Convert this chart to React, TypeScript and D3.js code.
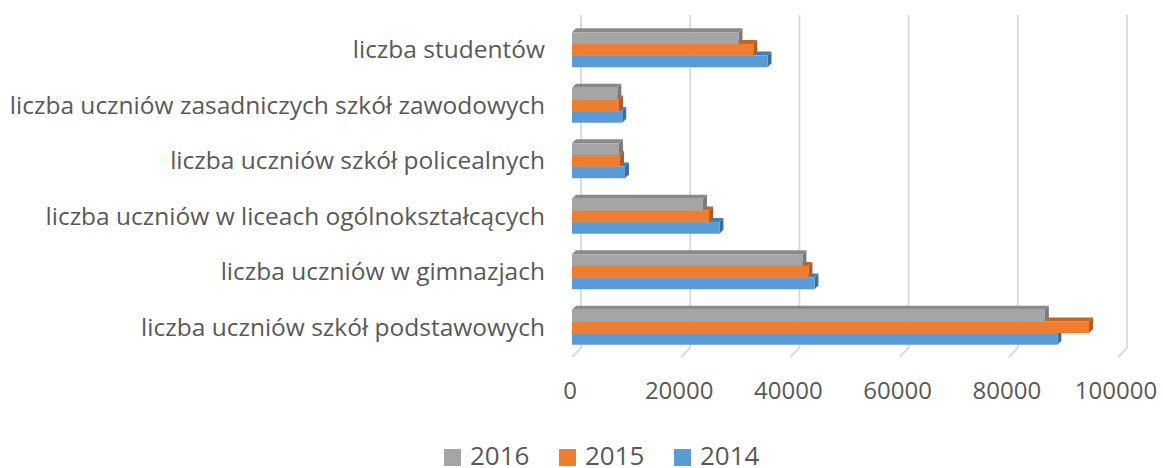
import React from 'react';
import * as d3 from 'd3';

// categories listed top to bottom, as in the picture
const categories = [
  'liczba studentów',
  'liczba uczniów zasadniczych szkół zawodowych',
  'liczba uczniów szkół policealnych',
  'liczba uczniów w liceach ogólnokształcących',
  'liczba uczniów w gimnazjach',
  'liczba uczniów szkół podstawowych',
];

const years = ['2016', '2015', '2014'];
const values2016 = [30500, 8300, 8600, 24000, 42200, 86600];
const values2015 = [33200, 8600, 8800, 25100, 43300, 94700];
const values2014 = [35800, 9200, 9700, 27000, 44400, 88900];
const xTicks = [0, 20000, 40000, 60000, 80000, 100000];

const colors: Record<string, { front: string; side: string; top: string }> = {
  '2016': { front: '#a5a5a5', side: '#7b7b7b', top: '#8a8a8a' },
  '2015': { front: '#ed7d31', side: '#b4591f', top: '#c76422' },
  '2014': { front: '#5b9bd5', side: '#3b6f9e', top: '#467fb3' },
};

const FONT = '"Open Sans", "DejaVu Sans", sans-serif';
const TEXT = '#595959';

export default function App() {
  const width = 1163;
  const height = 468;

  const series = [
    { key: '2016', values: values2016 },
    { key: '2015', values: values2015 },
    { key: '2014', values: values2014 },
  ];

  // front plane scales
  const x = d3.scaleLinear().domain([0, 100000]).range([572, 1118]);
  const y = d3
    .scaleBand<string>()
    .domain(categories)
    .range([22, 355])
    .paddingInner(0.37)
    .paddingOuter(0.185);
  const ySub = d3.scaleBand<string>().domain(years).range([0, y.bandwidth()]);

  // 3D offsets
  const floorDx = 9, floorDy = 9;
  const barD = 4;
  const backTop = 15, backBottom = 348;

  return (
    <div style={{ position: 'absolute', left: 0, top: 0 }}>
      <svg width={width} height={height} style={{ display: 'block', background: '#fff' }}>
        {/* gridlines on back wall + floor */}
        <g fill="none" stroke="#d9d9d9" strokeWidth={1.8}>
          {xTicks.map((t) => (
            <path
              key={t}
              d={`M${x(t) + floorDx},${backTop}L${x(t) + floorDx},${backBottom}L${x(t)},${backBottom + floorDy}`}
            />
          ))}
        </g>

        {/* bars */}
        {categories.map((c, i) => (
          <g key={c}>
            {[...series].reverse().map((s) => {
              const y0 = (y(c) as number) + (ySub(s.key) as number);
              const h = ySub.bandwidth();
              const x0 = x(0);
              const x1 = x(s.values[i]);
              const col = colors[s.key];
              return (
                <g key={s.key}>
                  <polygon
                    points={`${x0},${y0} ${x0 + barD},${y0 - barD} ${x1 + barD},${y0 - barD} ${x1},${y0}`}
                    fill={col.top}
                  />
                  <polygon
                    points={`${x1},${y0} ${x1 + barD},${y0 - barD} ${x1 + barD},${y0 + h - barD} ${x1},${y0 + h}`}
                    fill={col.side}
                  />
                  <rect x={x0} y={y0} width={x1 - x0} height={h} fill={col.front} />
                </g>
              );
            })}
          </g>
        ))}

        {/* category labels */}
        <g fontFamily={FONT} fontSize={24.5} fill={TEXT} textAnchor="end">
          {categories.map((c) => (
            <text key={c} x={545} y={(y(c) as number) + y.bandwidth() / 2} dy="0.35em">
              {c}
            </text>
          ))}
        </g>

        {/* value axis labels */}
        <g fontFamily={FONT} fontSize={24} fill={TEXT} textAnchor="middle">
          {xTicks.map((t) => (
            <text key={t} x={x(t) - 2} y={399}>
              {String(t)}
            </text>
          ))}
        </g>

        {/* legend */}
        <g fontFamily={FONT} fontSize={26} fill={TEXT}>
          {years.map((yr, i) => {
            const lx = 444 + i * 115;
            return (
              <g key={yr}>
                <rect x={lx} y={449} width={17} height={17} fill={colors[yr].front} />
                <text x={lx + 26} y={465}>
                  {yr}
                </text>
              </g>
            );
          })}
        </g>
      </svg>
    </div>
  );
}
